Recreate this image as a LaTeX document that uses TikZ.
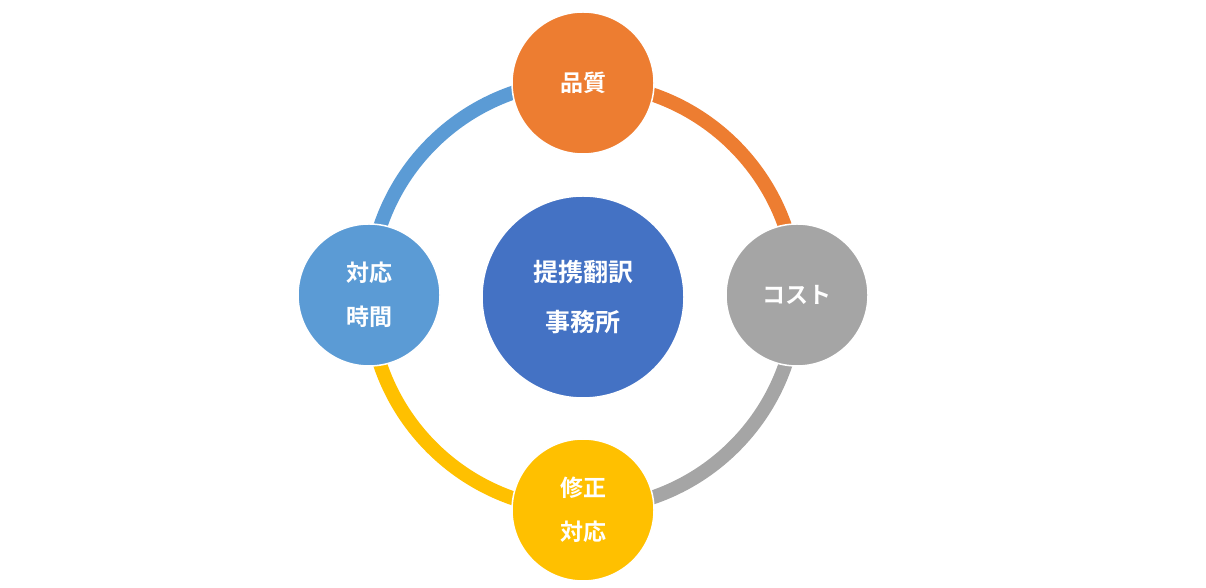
\documentclass[tikz,border=0pt]{standalone}
\usepackage{fontspec}
\newfontfamily\jpfont{Noto Sans CJK JP}[BoldFont=* Bold]
\usepackage{xcolor}
\definecolor{orangeQ}{HTML}{ED7D31}
\definecolor{grayC}{HTML}{A5A5A5}
\definecolor{yellowR}{HTML}{FFC000}
\definecolor{blueT}{HTML}{5B9BD5}
\definecolor{blueM}{HTML}{4472C4}
\begin{document}
\begin{tikzpicture}[x=1pt,y=1pt,
                    ring/.style={line width=14pt},
                    item/.style={circle,draw=white,line width=1.5pt,minimum size=142pt,inner sep=0pt,
                                 text=white,align=center,font=\jpfont\bfseries\fontsize{23}{44}\selectfont}]
    \useasboundingbox (0,0) rectangle (1206,588);
    \node[item,fill=blueM,minimum size=202pt,font=\jpfont\bfseries\fontsize{25}{50}\selectfont] (hub) at (583,291) {提携翻訳\\事務所};
    \node[item,fill=orangeQ] (quality) at (583,505) {品質};
    \node[item,fill=grayC] (cost) at (797,293) {コスト};
    \node[item,fill=yellowR] (fix) at (583,78) {修正\\対応};
    \node[item,fill=blueT] (time) at (369,293) {対応\\時間};
    % ring segments
    \begin{scope}[on background layer/.style={}]
    \end{scope}
    \draw[ring,orangeQ] (quality.center) arc[start angle=90,end angle=0,radius=214];
    \draw[ring,grayC] (cost.center) arc[start angle=0,end angle=-90,radius=214];
    \draw[ring,yellowR] (fix.center) arc[start angle=-90,end angle=-180,radius=214];
    \draw[ring,blueT] (time.center) arc[start angle=180,end angle=90,radius=214];
    % circles on top
    \node[item,fill=orangeQ] at (quality) {品質};
    \node[item,fill=grayC] at (cost) {コスト};
    \node[item,fill=yellowR] at (fix) {修正\\対応};
    \node[item,fill=blueT] at (time) {対応\\時間};
\end{tikzpicture}
\end{document}
